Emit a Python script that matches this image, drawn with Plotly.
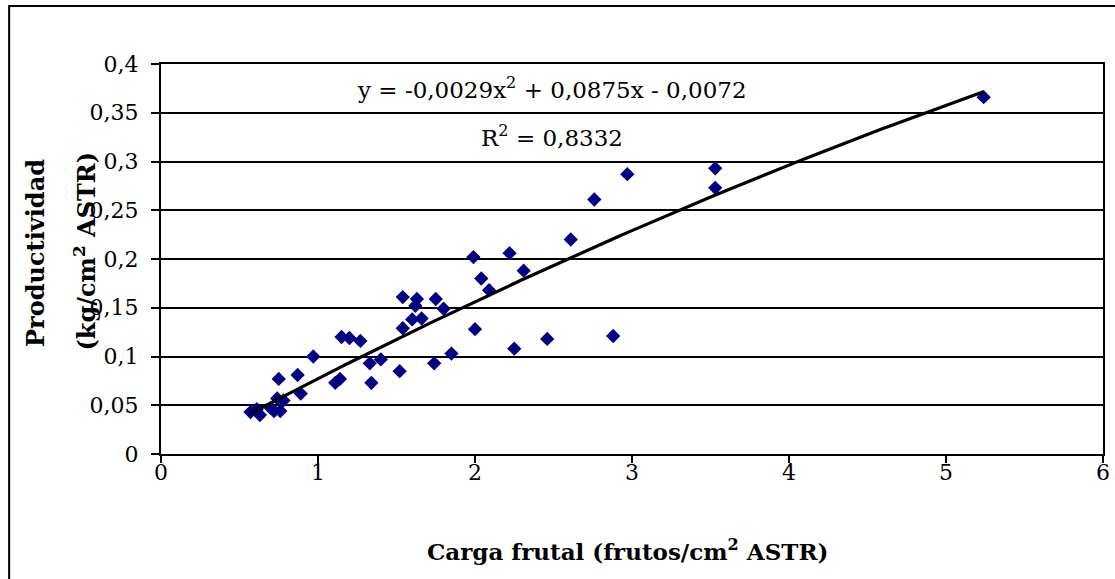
import numpy as np
import plotly.graph_objects as go

# Fruit load (fruits/cm2 TCSA) vs. productivity (kg/cm2 TCSA)
carga = [0.57, 0.61, 0.63, 0.70, 0.72, 0.74, 0.75, 0.76, 0.78, 0.87, 0.89,
         0.97, 1.11, 1.14, 1.15, 1.20, 1.27, 1.33, 1.34, 1.40, 1.52, 1.54,
         1.54, 1.60, 1.62, 1.63, 1.66, 1.74, 1.75, 1.80, 1.85, 1.99, 2.00,
         2.04, 2.09, 2.22, 2.25, 2.31, 2.46, 2.61, 2.76, 2.88, 2.97, 3.53,
         3.53, 5.24]
productividad = [0.043, 0.046, 0.040, 0.047, 0.044, 0.057, 0.077, 0.044,
                 0.055, 0.081, 0.062, 0.100, 0.073, 0.077, 0.120, 0.119,
                 0.116, 0.093, 0.073, 0.097, 0.085, 0.129, 0.161, 0.138,
                 0.152, 0.159, 0.139, 0.093, 0.159, 0.149, 0.103, 0.202,
                 0.128, 0.180, 0.168, 0.206, 0.108, 0.188, 0.118, 0.220,
                 0.261, 0.121, 0.287, 0.293, 0.273, 0.366]

# Polynomial trendline (order 2) as reported on the chart
coef_a, coef_b, coef_c = -0.0029, 0.0875, -0.0072
r2 = "0,8332"

y_ticks = [0, 0.05, 0.1, 0.15, 0.2, 0.25, 0.3, 0.35, 0.4]
y_labels = ["0", "0,05", "0,1", "0,15", "0,2", "0,25", "0,3", "0,35", "0,4"]
x_ticks = [0, 1, 2, 3, 4, 5, 6]
x_labels = ["0", "1", "2", "3", "4", "5", "6"]

W, H = 1115, 579
ML, MR, MT, MB = 161, 5, 64, 125
PW, PH = W - ML - MR, H - MT - MB


def px_x(p):
    return (p - ML) / PW


def px_y(p):
    return (H - MB - p) / PH


FONT = "DejaVu Serif, Liberation Serif, serif"
FS_TICK = 22
FS_NOTE = 23

xt = np.linspace(min(carga), max(carga), 200)
yt = coef_a * xt ** 2 + coef_b * xt + coef_c

fig = go.Figure()
fig.add_trace(go.Scatter(
    x=carga, y=productividad, mode="markers",
    marker=dict(symbol="diamond", size=11, color="#000080",
                line=dict(width=0)),
    showlegend=False, hoverinfo="x+y"))
fig.add_trace(go.Scatter(
    x=xt, y=yt, mode="lines",
    line=dict(color="black", width=3.2),
    showlegend=False, hoverinfo="skip"))

fig.update_layout(
    width=W, height=H,
    margin=dict(l=ML, r=MR, t=MT, b=MB),
    paper_bgcolor="white", plot_bgcolor="white",
    font=dict(family=FONT, size=FS_TICK, color="black"),
    xaxis=dict(range=[0, 6], tickvals=x_ticks, ticktext=x_labels,
               showgrid=False, zeroline=False,
               showline=True, linecolor="black", linewidth=2, mirror=True,
               ticks="outside", ticklen=7, tickwidth=2, tickcolor="black",
               ticklabelstandoff=-9, ticklabeloverflow="allow"),
    yaxis=dict(range=[0, 0.4], tickvals=y_ticks, ticktext=y_labels,
               showgrid=True, gridcolor="black", gridwidth=1.6,
               zeroline=False,
               showline=True, linecolor="black", linewidth=2, mirror=True,
               ticks="outside", ticklen=8, tickwidth=2, tickcolor="black",
               ticklabelstandoff=8),
)

# Outer chart frame
fig.add_shape(type="rect", xref="paper", yref="paper",
              x0=px_x(8), x1=px_x(1125), y0=px_y(590), y1=px_y(6),
              line=dict(color="black", width=2), fillcolor="rgba(0,0,0,0)",
              layer="below")


def note(text, x, y, size, angle=0):
    fig.add_annotation(xref="paper", yref="paper", x=px_x(x), y=px_y(y),
                       xanchor="center", yanchor="middle", text=text,
                       textangle=angle, showarrow=False,
                       font=dict(size=size))


note("y = -0,0029x<sup>2</sup> + 0,0875x - 0,0072", 555, 88, FS_NOTE)
note("R<sup>2</sup> = " + r2, 555, 136, FS_NOTE)
note("<b>Carga frutal (frutos/cm<sup>2</sup> ASTR)</b>", 631, 550, 23)
note("<b>Productividad</b>", 34, 253, 24, -90)
note("<b>(kg/cm<sup>2</sup> ASTR)</b>", 84, 251, 24, -90)

fig.write_html("out.html")
